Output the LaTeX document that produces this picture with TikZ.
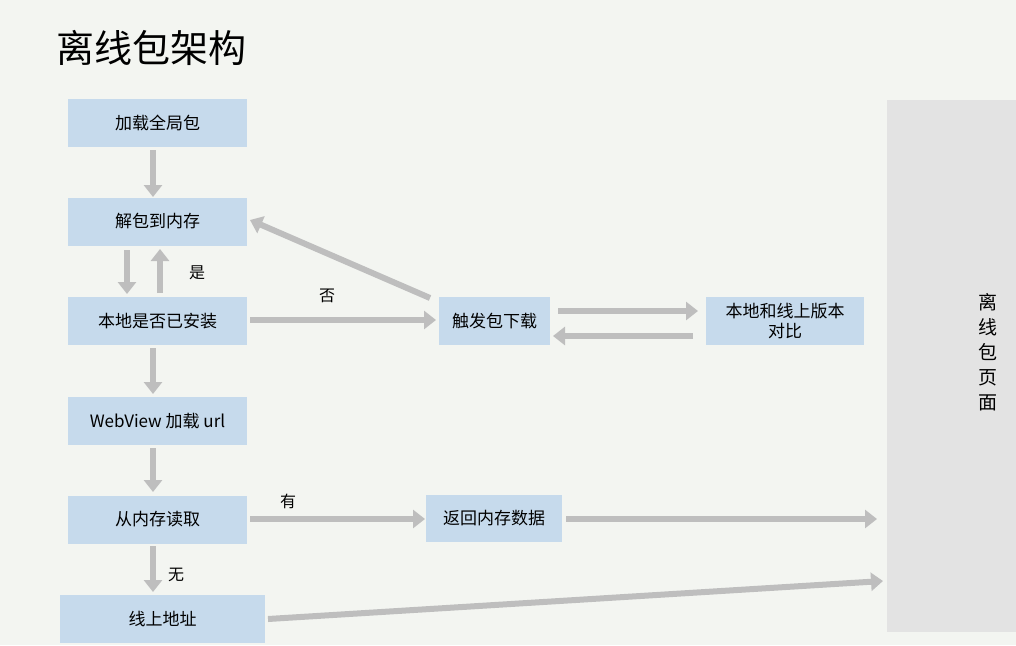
\documentclass[tikz,border=0pt]{standalone}
\usepackage{fontspec}
\setmainfont{Noto Sans CJK SC}
\usetikzlibrary{arrows.meta}
\definecolor{bg}{HTML}{F3F5F1}
\definecolor{boxc}{HTML}{C6DAEC}
\definecolor{arr}{HTML}{BEBEBE}
\definecolor{side}{HTML}{E3E3E3}
\tikzset{
  bx/.style={fill=boxc,draw=none,inner sep=0pt,font=\fontsize{17}{20}\selectfont,align=center},
  ar/.style={draw=arr,line width=6pt,-{Triangle[length=12pt,width=18pt]}},
  lb/.style={font=\fontsize{16}{18}\selectfont},
}
\begin{document}
\begin{tikzpicture}[x=1pt,y=-1pt]
\fill[bg] (0,0) rectangle (1016,645);
\useasboundingbox (0,0) rectangle (1016,645);
\node[anchor=west,font=\fontsize{38}{44}\selectfont] (title) at (53,48) {离线包架构};
\fill[side] (887,100) rectangle (1016,632);
\node[font=\fontsize{19}{25}\selectfont,align=center] (page) at (988,352) {离\\线\\包\\页\\面};
\node[bx,minimum width=179pt,minimum height=48pt] (a) at (157.5,123) {加载全局包};
\node[bx,minimum width=179pt,minimum height=48pt] (b) at (157.5,221.5) {解包到内存};
\node[bx,minimum width=179pt,minimum height=48pt] (c) at (157.5,321) {本地是否已安装};
\node[bx,minimum width=179pt,minimum height=48pt] (d) at (157.5,421) {WebView 加载 url};
\node[bx,minimum width=179pt,minimum height=48pt] (e) at (157.5,519.5) {从内存读取};
\node[bx,minimum width=205pt,minimum height=48pt] (f) at (162.5,618.5) {线上地址};
\node[bx,minimum width=111pt,minimum height=48pt] (g) at (494.5,321) {触发包下载};
\node[bx,minimum width=158pt,minimum height=48pt] (h) at (785,321) {本地和线上版本\\对比};
\node[bx,minimum width=136pt,minimum height=47pt] (i) at (494,518.5) {返回内存数据};
\coordinate (p1) at (877,519);
\coordinate (p2) at (883,581);
\draw[ar] (153,150) -- (153,197);
\draw[ar] (127,250) -- (127,294);
\draw[ar] (160,293) -- (160,249);
\node[lb] (l1) at (197,273) {是};
\draw[ar] (153,348) -- (153,394);
\draw[ar] (153,448) -- (153,492);
\draw[ar] (153,546) -- (153,592);
\node[lb] (l2) at (176,575) {无};
\draw[ar] (250,320) -- (436,320);
\node[lb] (l3) at (327,296) {否};
\draw[ar] (430,298) -- (250,220);
\draw[ar] (558,311) -- (698,311);
\draw[ar] (693,336) -- (553,336);
\draw[ar] (250,519) -- (425,519);
\node[lb] (l4) at (288,501) {有};
\draw[ar] (566,519) -- (p1);
\draw[ar] (268,619) -- (p2);
\end{tikzpicture}
\end{document}
